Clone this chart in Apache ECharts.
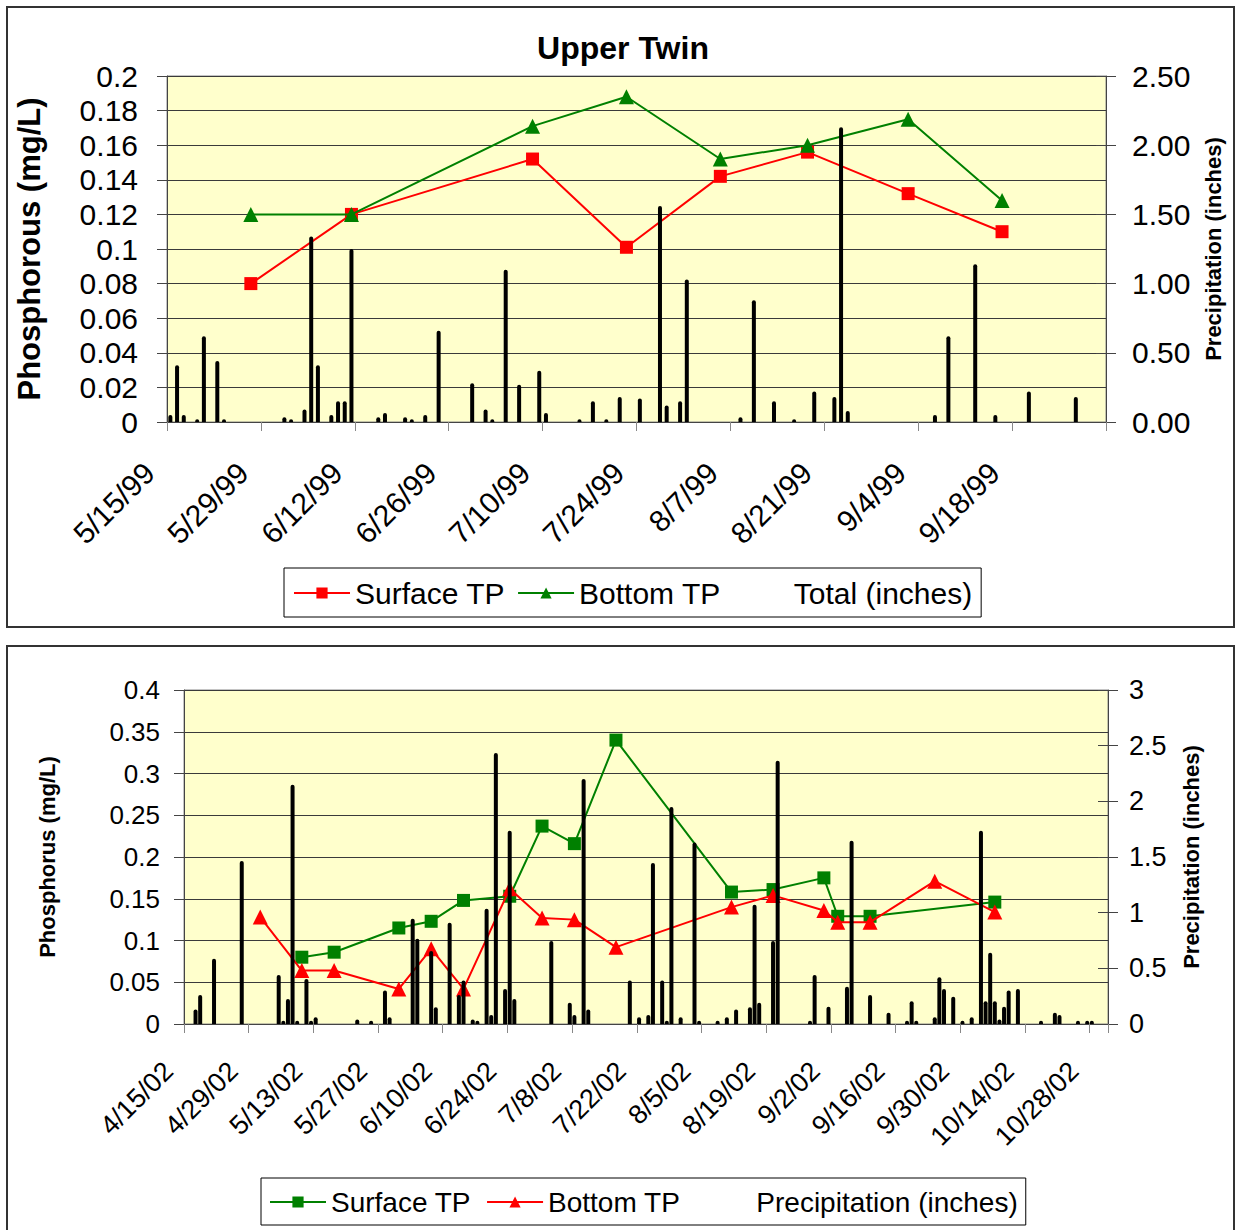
<!DOCTYPE html>
<html><head><meta charset="utf-8">
<script src="https://cdn.jsdelivr.net/npm/echarts@6/dist/echarts.min.js"></script>
<style>
html,body{margin:0;padding:0;background:#fff;}
#top{position:absolute;left:0;top:0;width:1235px;height:637px;}
#bot{position:absolute;left:0;top:637px;width:1235px;height:593px;}
</style></head>
<body>
<div id="top"></div>
<div id="bot"></div>
<script>
// ---------- Upper chart (1999) ----------
const topTickLabels = ['5/15/99','5/29/99','6/12/99','6/26/99','7/10/99','7/24/99','8/7/99','8/21/99','9/4/99','9/18/99'];
const topSampleDates = ['5/27/99','6/11/99','7/8/99','7/22/99','8/5/99','8/18/99','9/2/99','9/16/99'];
const topSurfaceTP = [0.080,0.120,0.152,0.101,0.142,0.156,0.132,0.110];
const topBottomTP  = [0.120,0.120,0.171,0.188,0.152,0.160,0.175,0.128];
const topRainDates = ['5/15/99','5/16/99','5/17/99','5/19/99','5/20/99','5/22/99','5/23/99',
  '6/1/99','6/2/99','6/4/99','6/5/99','6/6/99','6/8/99','6/9/99','6/10/99','6/11/99',
  '6/15/99','6/16/99','6/19/99','6/20/99','6/22/99','6/24/99','6/29/99',
  '7/1/99','7/2/99','7/4/99','7/6/99','7/9/99','7/10/99','7/15/99','7/17/99','7/19/99','7/21/99','7/24/99',
  '7/27/99','7/28/99','7/30/99','7/31/99','8/8/99','8/10/99','8/13/99','8/16/99','8/19/99',
  '8/22/99','8/23/99','8/24/99','9/6/99','9/8/99','9/12/99','9/15/99','9/20/99','9/27/99'];
const topRain = [0.05,0.41,0.05,0.02,0.62,0.44,0.02,
  0.035,0.02,0.09,1.34,0.41,0.05,0.15,0.15,1.25,
  0.035,0.065,0.035,0.02,0.05,0.66,0.28,
  0.09,0.02,1.10,0.27,0.37,0.065,0.02,0.15,0.02,0.18,0.17,
  1.56,0.12,0.15,1.03,0.035,0.88,0.15,0.02,0.22,
  0.18,2.13,0.08,0.05,0.62,1.14,0.05,0.22,0.18];
const topLeftTicks = ['0','0.02','0.04','0.06','0.08','0.1','0.12','0.14','0.16','0.18','0.2'];
const topRightTicks = ['0.00','0.50','1.00','1.50','2.00','2.50'];

// ---------- Lower chart (2002) ----------
const botTickLabels = ['4/15/02','4/29/02','5/13/02','5/27/02','6/10/02','6/24/02','7/8/02','7/22/02','8/5/02','8/19/02','9/2/02','9/16/02','9/30/02','10/14/02','10/28/02'];
const botSurfaceDates = ['5/10/02','5/17/02','5/31/02','6/7/02','6/14/02','6/24/02','7/1/02','7/8/02','7/17/02','8/11/02','8/20/02','8/31/02','9/3/02','9/10/02','10/7/02'];
const botSurfaceTP = [0.080,0.086,0.115,0.123,0.148,0.153,0.237,0.216,0.340,0.158,0.161,0.175,0.129,0.129,0.146];
const botBottomDates = ['5/1/02','5/10/02','5/17/02','5/31/02','6/7/02','6/14/02','6/24/02','7/1/02','7/8/02','7/17/02','8/11/02','8/20/02','8/31/02','9/3/02','9/10/02','9/24/02','10/7/02'];
const botBottomTP = [0.128,0.064,0.064,0.042,0.090,0.042,0.162,0.127,0.125,0.092,0.140,0.154,0.136,0.122,0.122,0.171,0.134];
const botRainDates = ['4/17/02','4/18/02','4/21/02','4/27/02','5/5/02','5/6/02','5/7/02','5/8/02','5/9/02','5/11/02','5/12/02','5/13/02',
  '5/22/02','5/25/02','5/28/02','5/29/02','6/3/02','6/4/02','6/7/02','6/8/02','6/11/02','6/13/02','6/14/02','6/16/02','6/17/02',
  '6/19/02','6/20/02','6/21/02','6/23/02','6/24/02','6/25/02','7/3/02','7/7/02','7/8/02','7/10/02','7/11/02',
  '7/20/02','7/22/02','7/24/02','7/25/02','7/27/02','7/28/02','7/29/02','7/31/02','8/3/02','8/4/02','8/8/02','8/10/02',
  '8/12/02','8/15/02','8/16/02','8/17/02','8/20/02','8/21/02','8/28/02','8/29/02','9/1/02','9/5/02','9/6/02','9/10/02',
  '9/14/02','9/18/02','9/19/02','9/20/02','9/24/02','9/25/02','9/26/02','9/28/02','9/30/02','10/2/02','10/4/02','10/5/02',
  '10/6/02','10/7/02','10/8/02','10/9/02','10/10/02','10/12/02','10/17/02','10/20/02','10/21/02','10/25/02','10/27/02','10/28/02'];
const botRain = [0.13,0.26,0.585,1.465,0.44,0.03,0.225,2.15,0.03,0.405,0.03,0.06,
  0.04,0.03,0.30,0.06,0.945,0.765,0.655,0.15,0.91,0.26,0.39,0.04,0.03,
  1.035,0.08,2.435,0.315,1.735,0.225,0.745,0.19,0.08,2.20,0.13,
  0.39,0.06,0.08,1.445,0.39,0.03,1.95,0.06,1.63,0.03,0.03,0.06,
  0.13,0.15,1.07,0.19,0.745,2.365,0.03,0.44,0.155,0.335,1.645,0.26,
  0.10,0.03,0.205,0.03,0.06,0.42,0.315,0.245,0.03,0.06,1.735,0.205,
  0.64,0.205,0.04,0.155,0.30,0.315,0.03,0.10,0.08,0.03,0.03,0.03];
const botLeftTicks = ['0','0.05','0.1','0.15','0.2','0.25','0.3','0.35','0.4'];
const botRightTicks = ['0','0.5','1','1.5','2','2.5','3'];

const FONT = '"Liberation Sans", Arial, sans-serif';
function yr(v){ return v < 50 ? 2000 + v : 1900 + v; }
function dayOf(s, start){
  const p = s.split('/').map(Number), q = start.split('/').map(Number);
  return Math.round((Date.UTC(yr(p[2]), p[0]-1, p[1]) - Date.UTC(yr(q[2]), q[0]-1, q[1])) / 86400000);
}
// points are centred in their day slot on the date axis
function pts(dates, vals, start){ return dates.map((d,i)=>[dayOf(d,start)+0.5, vals[i]]); }

function build(cfg){
  return {
    animation:false,
    textStyle:{fontFamily:FONT, color:'#000'},
    title: cfg.title ? {text:cfg.title, left:cfg.titleX, textAlign:'center', top:cfg.titleTop,
      textStyle:{fontFamily:FONT, fontSize:cfg.titleSize, fontWeight:'bold', color:'#000'}} : undefined,
    graphic:[{type:'rect', shape:cfg.frame, style:{fill:'none', stroke:'#333', lineWidth:2}, silent:true}],
    grid:{left:cfg.grid[0], top:cfg.grid[1], width:cfg.grid[2], height:cfg.grid[3], show:true,
      backgroundColor:'#FFFFCC', borderColor:'#888', borderWidth:1},
    legend:{left:cfg.legendPos[0], top:cfg.legendPos[1], orient:'horizontal',
      padding:cfg.legendPad, itemGap:cfg.legendGap, itemWidth:56, itemHeight:14,
      borderColor:'#000', borderWidth:1, backgroundColor:'#fff',
      textStyle:{fontFamily:FONT, fontSize:cfg.legendSize, color:'#000'},
      data:[cfg.names[0], cfg.names[1], {name:cfg.names[2], icon:'rect', itemStyle:{opacity:0}}]},
    xAxis:{type:'value', min:0, max:cfg.xMax, interval:14,
      axisLine:{lineStyle:{color:'#444', width:1}},
      axisTick:{show:true, length:9, lineStyle:{color:'#888'}},
      splitLine:{show:false},
      axisLabel:{rotate:45, margin:cfg.xMargin, fontSize:cfg.xSize, color:'#000', fontFamily:FONT,
        padding:[0, cfg.xPad, 0, 0],
        formatter:v=>{ const i=v/14; return Number.isInteger(i) && cfg.xLabels[i] ? cfg.xLabels[i] : ''; }}},
    yAxis:[
      {type:'value', position:'left', min:0, max:cfg.yMax, interval:cfg.yInt,
        axisLine:{show:true, lineStyle:{color:'#444'}},
        axisTick:{show:true, length:10, lineStyle:{color:'#444'}},
        splitLine:{show:true, lineStyle:{color:'#3a3a3a', width:1}},
        axisLabel:{margin:cfg.yMargin, fontSize:cfg.ySize, color:'#000', fontFamily:FONT,
          formatter:v=>cfg.yLabels[Math.round(v/cfg.yInt)]},
        name:cfg.yName, nameLocation:'middle', nameGap:cfg.yNameGap,
        nameTextStyle:{fontFamily:FONT, fontSize:cfg.yNameSize, fontWeight:'bold', color:'#000'}},
      {type:'value', position:'right', min:0, max:cfg.y2Max, interval:cfg.y2Int,
        axisLine:{show:true, lineStyle:{color:'#444'}},
        axisTick:{show:true, length:10, lineStyle:{color:'#444'}},
        splitLine:{show:false},
        axisLabel:{margin:cfg.y2Margin, fontSize:cfg.y2Size, color:'#000', fontFamily:FONT,
          formatter:v=>cfg.y2Labels[Math.round(v/cfg.y2Int)]},
        name:cfg.y2Name, nameLocation:'middle', nameGap:cfg.y2NameGap, nameRotate:90,
        nameTextStyle:{fontFamily:FONT, fontSize:cfg.y2NameSize, fontWeight:'bold', color:'#000'}},
      {type:'value', position:'right', min:0, max:cfg.y2Max, interval:cfg.y2Int,
        axisLine:{show:false}, axisTick:{show:true, inside:true, length:10, lineStyle:{color:'#444'}},
        axisLabel:{show:false}, splitLine:{show:false}}
    ],
    series:[
      {name:cfg.names[0], type:'line', data:cfg.s1, yAxisIndex:0, color:cfg.c1,
        symbol:cfg.sym1, symbolSize:cfg.sym1==='rect'?13:15, lineStyle:{width:2, color:cfg.c1},
        itemStyle:{color:cfg.c1}, z:2},
      {name:cfg.names[1], type:'line', data:cfg.s2, yAxisIndex:0, color:cfg.c2,
        symbol:cfg.sym2, symbolSize:cfg.sym2==='rect'?13:15, lineStyle:{width:2, color:cfg.c2},
        itemStyle:{color:cfg.c2}, z:3},
      {name:cfg.names[2], type:'bar', data:cfg.bars, yAxisIndex:1, barWidth:4,
        itemStyle:{color:'#000', borderRadius:[2,2,0,0]}, z:4}
    ]
  };
}

const topStart = topTickLabels[0];
const topChart = echarts.init(document.getElementById('top'), null, {renderer:'svg'});
topChart.setOption(build({
  title:'Upper Twin', titleX:618, titleTop:27, titleSize:32,
  frame:{x:7, y:7, width:1227, height:620},
  grid:[167,76,939,346],
  legendPos:[284,568], legendPad:[10,9,9,9], legendGap:12, legendSize:30,
  names:['Surface TP','Bottom TP','Total (inches)'],
  xMax:140, xLabels:topTickLabels, xMargin:28, xPad:25, xSize:30,
  yMax:0.2, yInt:0.02, yLabels:topLeftTicks, yMargin:29, ySize:30,
  yName:'Phosphorous (mg/L)', yNameGap:122, yNameSize:31,
  y2Max:2.5, y2Int:0.5, y2Labels:topRightTicks, y2Margin:26, y2Size:30,
  y2Name:'Precipitation (inches)', y2NameGap:96, y2NameSize:22,
  c1:'#FF0000', sym1:'rect', c2:'#008000', sym2:'triangle',
  s1:pts(topSampleDates, topSurfaceTP, topStart),
  s2:pts(topSampleDates, topBottomTP, topStart),
  bars:pts(topRainDates, topRain, topStart)
}));

const botStart = botTickLabels[0];
const botChart = echarts.init(document.getElementById('bot'), null, {renderer:'svg'});
botChart.setOption(build({
  title:null,
  frame:{x:7, y:9, width:1227, height:600},
  grid:[184,53,924,334],
  legendPos:[261,541], legendPad:[10,8,9,8], legendGap:15, legendSize:28,
  names:['Surface TP','Bottom TP','Precipitation (inches)'],
  xMax:200, xLabels:botTickLabels, xMargin:27, xPad:22, xSize:27,
  yMax:0.4, yInt:0.05, yLabels:botLeftTicks, yMargin:24, ySize:26,
  yName:'Phosphorus (mg/L)', yNameGap:126, yNameSize:22,
  y2Max:3, y2Int:0.5, y2Labels:botRightTicks, y2Margin:21, y2Size:27,
  y2Name:'Precipitation (inches)', y2NameGap:72, y2NameSize:22,
  c1:'#008000', sym1:'rect', c2:'#FF0000', sym2:'triangle',
  s1:pts(botSurfaceDates, botSurfaceTP, botStart),
  s2:pts(botBottomDates, botBottomTP, botStart),
  bars:pts(botRainDates, botRain, botStart)
}));
</script>
</body></html>
